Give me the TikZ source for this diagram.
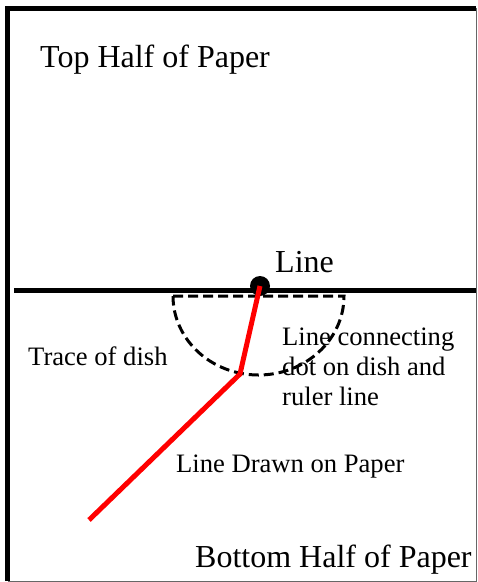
\documentclass[tikz,border=0pt]{standalone}
\usepackage{fontspec}
\setmainfont{Liberation Serif}
\begin{document}
\begin{tikzpicture}[x=1pt, y=-1pt]
    \tikzstyle{big} = [inner sep=0pt, anchor=base west,
	font=\fontsize{32}{36}\selectfont]
    \tikzstyle{small} = [inner sep=0pt, anchor=base west, align=left,
	font=\fontsize{26.6}{30}\selectfont]
    \tikzstyle{redline} = [red, line width=5pt]
    \useasboundingbox (0,0) rectangle (478,582);
	% paper
	\draw[black, line width=5pt] (7.5,581) -- (7.5,8) -- (476,8);
	\draw[gray!80!black, line width=1pt] (476,8) -- (476,581) -- (7.5,581);
	% ruler line and dish
	\draw[line width=5pt] (14,290) -- (476,290);
	\draw[dashed, line width=3pt, dash pattern=on 10pt off 5pt]
		(173,296) -- (344,296) arc[start angle=0, end angle=180,
		x radius=85.5, y radius=79];
	\path
		node[circle, fill=black, minimum size=20pt, inner sep=0pt] (dot) at (260,286) {}
		coordinate (kink) at (240,374)
		coordinate (tail) at (89,520)
		node[big] (top) at (40,67) {Top Half of Paper}
		node[big] (line) at (275,272) {Line}
		node[big] (bottom) at (195,567) {Bottom Half of Paper}
		node[small] (trace) at (28,365) {Trace of dish}
		node[small] (conn) at (282,405) {Line connecting\\dot on dish and\\ruler line}
		node[small] (drawn) at (176,472) {Line Drawn on Paper};
	\draw[redline] (dot.center) -- (kink) -- (tail);
\end{tikzpicture}
\end{document}
